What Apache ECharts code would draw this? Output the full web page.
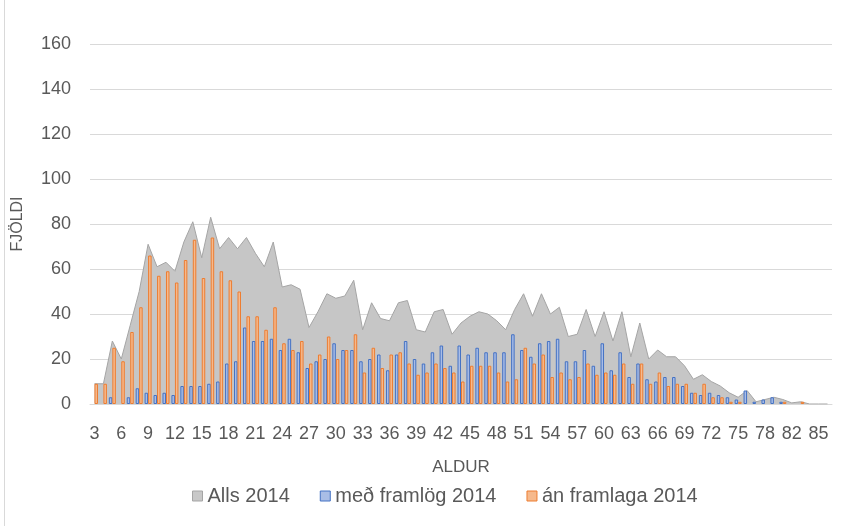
<!DOCTYPE html>
<html>
<head>
<meta charset="utf-8">
<script src="https://cdn.jsdelivr.net/npm/echarts@6/dist/echarts.min.js"></script>
<style>
  html, body { margin: 0; padding: 0; background: #fff; }
  #chart { width: 855px; height: 526px; }
</style>
</head>
<body>
<div id="chart"></div>
<script>
// aldur (age) categories, one missing between 78 and 82
const ages = [3, 4, 5, 6, 7, 8, 9, 10, 11, 12, 13, 14, 15, 16, 17, 18, 19, 20,
  21, 22, 23, 24, 25, 26, 27, 28, 29, 30, 31, 32, 33, 34, 35, 36, 37, 38, 39, 40,
  41, 42, 43, 44, 45, 46, 47, 48, 49, 50, 51, 52, 53, 54, 55, 56, 57, 58, 59, 60,
  61, 62, 63, 64, 65, 66, 67, 68, 69, 70, 71, 72, 73, 74, 75, 76, 77, 78, 79, 80,
  82, 83, 84, 85, 86]

// Alls 2014
const alls = [9, 9, 28, 20, 35, 50, 71, 61, 63, 59, 72, 81, 65, 83, 69, 74, 69, 74,
  67, 61, 72, 52, 53, 51, 34, 41, 49, 47, 48, 55, 33, 45, 38, 37, 45, 46, 33, 32,
  41, 42, 31, 36, 39, 41, 40, 37, 33, 42, 49, 39, 49, 40, 43, 30, 31, 42, 30, 41,
  28, 41, 21, 36, 20, 24, 21, 21, 17, 11, 13, 10, 8, 5, 3, 6, 1, 2, 3, 2,
  0.5, 1, 0, 0, 0]

// með framlög 2014
const medFramlog = [0, 0, 3, 0, 3, 7, 5, 4, 5, 4, 8, 8, 8, 9, 10, 18, 19, 34,
  28, 28, 29, 24, 29, 23, 16, 19, 20, 27, 24, 24, 19, 20, 22, 15, 22, 28, 20, 18,
  23, 26, 17, 26, 22, 25, 23, 23, 23, 31, 24, 21, 27, 28, 29, 19, 19, 24, 17, 27,
  15, 23, 12, 18, 11, 10, 12, 12, 8, 5, 4, 5, 4, 3, 2, 6, 1, 2, 3, 1,
  0, 0, 0, 0, 0]

// án framlaga 2014
const anFramlaga = [9, 9, 25, 19, 32, 43, 66, 57, 59, 54, 64, 73, 56, 74, 59, 55, 50, 39,
  39, 33, 43, 27, 24, 28, 18, 22, 30, 20, 24, 31, 14, 25, 16, 22, 23, 18, 13, 14,
  18, 16, 14, 10, 17, 17, 17, 14, 10, 11, 25, 18, 22, 12, 14, 11, 12, 18, 13, 14,
  13, 18, 9, 18, 9, 14, 8, 9, 9, 5, 9, 3, 3, 1, 1, 0, 0, 0, 0, 1,
  0, 1, 0, 0, 0]

const yTicks = { min: 0, max: 160, interval: 20 }

const txt = '#595959'
const font = '"Liberation Sans", Arial, sans-serif'

// no empty bar outline for zero counts
const noZero = arr => arr.map(v => (v === 0 ? null : v))

const chart = echarts.init(document.getElementById('chart'))

chart.setOption({
  animation: false,
  textStyle: { fontFamily: font },
  graphic: [{
    type: 'line',
    shape: { x1: 4.5, y1: 0, x2: 4.5, y2: 526 },
    style: { stroke: '#d9d9d9', lineWidth: 1 }
  }],
  grid: { left: 90, right: 23, top: 44, bottom: 122 },
  legend: {
    left: 187,
    top: 481,
    itemWidth: 10,
    itemHeight: 10,
    itemGap: 30,
    textStyle: { color: txt, fontSize: 20, fontFamily: font },
    data: [
      { name: 'Alls 2014', icon: 'rect', itemStyle: { color: '#c8c8c8', borderColor: '#a5a5a5', borderWidth: 1 } },
      { name: 'með framlög 2014', icon: 'rect', itemStyle: { color: '#a9bde6', borderColor: '#4472c4', borderWidth: 1 } },
      { name: 'án framlaga 2014', icon: 'rect', itemStyle: { color: '#f6b98c', borderColor: '#ed7d31', borderWidth: 1 } }
    ]
  },
  xAxis: {
    type: 'category',
    data: ages,
    boundaryGap: true,
    name: 'ALDUR',
    nameLocation: 'middle',
    nameGap: 55,
    nameTextStyle: { color: txt, fontSize: 17 },
    axisLine: { lineStyle: { color: '#d9d9d9' } },
    axisTick: { show: false },
    axisLabel: { interval: 2, color: txt, fontSize: 18, margin: 21 }
  },
  yAxis: {
    type: 'value',
    min: yTicks.min,
    max: yTicks.max,
    interval: yTicks.interval,
    name: 'FJÖLDI',
    nameLocation: 'middle',
    nameGap: 64,
    nameTextStyle: { color: txt, fontSize: 16 },
    axisLine: { show: false },
    axisTick: { show: false },
    axisLabel: { color: txt, fontSize: 18, margin: 19 },
    splitLine: { lineStyle: { color: '#d9d9d9' } }
  },
  series: [
    {
      name: 'Alls 2014',
      type: 'line',
      data: alls,
      symbol: 'none',
      lineStyle: { color: '#a5a5a5', width: 1 },
      itemStyle: { color: '#c8c8c8' },
      areaStyle: { color: '#c6c6c6', opacity: 1 },
      z: 1
    },
    {
      name: 'með framlög 2014',
      type: 'bar',
      data: noZero(medFramlog),
      barWidth: 3.5,
      barGap: '0%',
      itemStyle: { color: '#a9bde6', borderColor: '#4472c4', borderWidth: 1 },
      z: 3
    },
    {
      name: 'án framlaga 2014',
      type: 'bar',
      data: noZero(anFramlaga),
      barWidth: 3.5,
      barGap: '0%',
      itemStyle: { color: '#f6b98c', borderColor: '#ed7d31', borderWidth: 1 },
      z: 3
    }
  ]
})
</script>
</body>
</html>
